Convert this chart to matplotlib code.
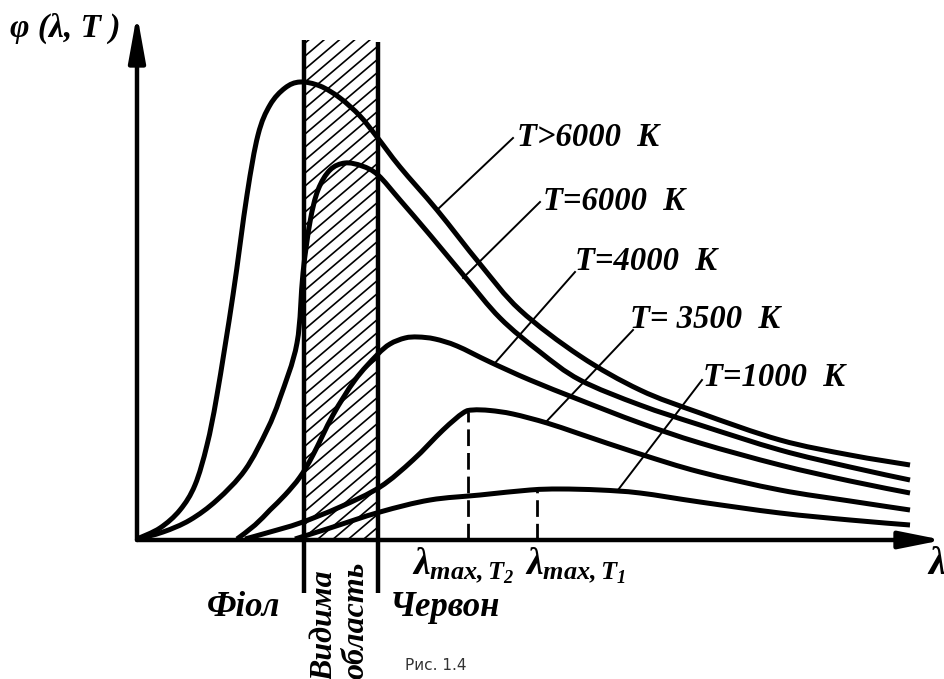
import numpy as np
import matplotlib
matplotlib.use("Agg")
import matplotlib.pyplot as plt
from matplotlib.patches import Rectangle, PathPatch
from matplotlib.path import Path

# ---------------- data (arbitrary units: wavelength, spectral density) ----------------
# T > 6000 K
c1_x = [0, 23, 43, 58, 70, 80, 96, 110, 121, 133, 148, 163, 183, 203, 223, 240, 263, 300, 343, 383, 443, 503, 563, 643, 713, 773]
c1_y = [1, 12, 30, 55, 95, 145, 245, 345, 405, 435, 452, 458, 454, 442, 424, 403, 373, 330, 276, 230, 184, 150, 127, 100, 85, 75]
# T = 6000 K
c2_x = [0, 26, 53, 80, 108, 130, 143, 160, 166, 173, 181, 193, 208, 225, 241, 263, 293, 328, 363, 403, 443, 503, 563, 643, 713, 773]
c2_y = [1, 8, 20, 40, 70, 110, 142, 197, 267, 318, 350, 370, 377, 374, 365, 340, 305, 263, 222, 188, 160, 135, 115, 90, 73, 60]
# T = 4000 K
c3_x = [100, 118, 133, 148, 163, 176, 196, 218, 240, 253, 268, 281, 298, 320, 353, 393, 443, 503, 563, 643, 713, 773]
c3_y = [1, 15, 30, 45, 63, 85, 125, 160, 185, 196, 202, 203, 201, 194, 178, 160, 140, 117, 97, 75, 59, 47]
# T = 3500 K
c4_x = [108, 133, 163, 203, 243, 276, 306, 326, 336, 353, 376, 410, 443, 503, 563, 643, 713, 773]
c4_y = [1, 8, 17, 33, 53, 80, 110, 127, 130, 129.5, 126, 117, 106, 86, 68, 50, 39, 30]
# T = 1000 K
c5_x = [158, 193, 243, 293, 343, 393, 423, 463, 503, 563, 643, 713, 773]
c5_y = [1, 12, 28, 40, 45, 50, 51, 50, 47, 38, 27, 20, 15]

curves_x = [c1_x, c2_x, c3_x, c4_x, c5_x]
curves_y = [c1_y, c2_y, c3_y, c4_y, c5_y]

labels = ["T>6000  K", "T=6000  K", "T=4000  K", "T= 3500  K", "T=1000  K"]
label_pos = [(380, 402), (406, 338), (438, 278), (493, 220), (566, 162)]
leader_start = [(376, 402), (403, 338), (438, 268), (496, 210), (565, 160)]
leader_end = [(300, 330), (326, 262), (358, 177), (408, 117), (481, 50)]

lam_max_x = [331, 400]          # λmax,T2 ; λmax,T1
lam_max_y = [128, 49]
lam_max_labels = [r"$\lambda_{max,T_2}$", r"$\lambda_{max,T_1}$"]

visible_band = (167, 241)       # visible region limits

# ---------------- figure ----------------
plt.rcParams['mathtext.fontset'] = 'custom'
plt.rcParams['mathtext.it'] = 'Liberation Serif:bold:italic'
plt.rcParams['mathtext.rm'] = 'Liberation Serif:bold:italic'
plt.rcParams['mathtext.bf'] = 'Liberation Serif:bold:italic'

fig = plt.figure(figsize=(9.44, 6.79), dpi=100)
ax = fig.add_axes([0, 0, 1, 1])
ax.set_xlim(-137, 807)
ax.set_ylim(-139, 540)
ax.axis('off')

serif = dict(family='Liberation Serif', weight='bold', style='italic')


def smooth_path(xs, ys):
    """Catmull-Rom through the points, drawn as cubic Bezier segments."""
    p = np.column_stack([xs, ys]).astype(float)
    ext = np.vstack([p[0], p, p[-1]])
    verts = [p[0]]
    codes = [Path.MOVETO]
    for i in range(1, len(ext) - 2):
        p0, p1, p2, p3 = ext[i - 1], ext[i], ext[i + 1], ext[i + 2]
        verts += [p1 + (p2 - p0) / 6.0, p2 - (p3 - p1) / 6.0, p2]
        codes += [Path.CURVE4] * 3
    return Path(verts, codes)


# axes with arrows
ax.annotate('', xy=(0, 526), xytext=(0, 0),
            arrowprops=dict(arrowstyle='-|>,head_length=1.0,head_width=0.18',
                            lw=3.2, color='k', shrinkA=0, shrinkB=0, mutation_scale=28))
ax.annotate('', xy=(806, 0), xytext=(0, 0),
            arrowprops=dict(arrowstyle='-|>,head_length=1.0,head_width=0.2',
                            lw=3.2, color='k', shrinkA=0, shrinkB=0, mutation_scale=26))

# visible region band
x0, x1 = visible_band
rect = Rectangle((x0, 0), x1 - x0, 500, facecolor='none', edgecolor='none')
ax.add_patch(rect)
slope = 0.85
for c in np.arange(-slope * (x1 - x0), 520, 13):
    xs = np.array([x0, x1])
    ys = c + slope * (xs - x0)
    ln, = ax.plot(xs, ys, color='k', lw=1.2, solid_capstyle='butt')
    ln.set_clip_path(rect)
for xb, top in zip(visible_band, [500, 498]):
    ax.plot([xb, xb], [-53, top], color='k', lw=3.2, solid_capstyle='butt')

# curves
for cx, cy in zip(curves_x, curves_y):
    ax.add_patch(PathPatch(smooth_path(cx, cy), facecolor='none', edgecolor='k',
                           lw=3.6, capstyle='butt', joinstyle='round'))

# leaders and labels
for (sx, sy), (ex, ey) in zip(leader_start, leader_end):
    ax.plot([sx, ex], [sy, ey], color='k', lw=1.4)
for txt, (lx, ly) in zip(labels, label_pos):
    ax.text(lx, ly, txt, fontsize=23.5, ha='left', va='center', **serif)

# λmax dashed lines
for lx, ly in zip(lam_max_x, lam_max_y):
    ax.plot([lx, lx], [0, ly], color='k', lw=2.0, dashes=(6, 2.5))
ax.text(275, -34, lam_max_labels[0], fontsize=27, ha='left', va='baseline')
ax.text(388, -34, lam_max_labels[1], fontsize=27, ha='left', va='baseline')

# axis labels
ax.text(-127, 512, "φ (λ, T )", fontsize=24, ha='left', va='center', **serif)
ax.text(791, -25, "λ", fontsize=28, ha='left', va='center', **serif)

ax.text(70, -67, "Фіол", fontsize=25, ha='left', va='center', **serif)
ax.text(253, -67, "Червон", fontsize=25, ha='left', va='center', **serif)
ax.text(188, -30, "Видима", fontsize=23, ha='center', va='top', rotation=90, **serif)
ax.text(219, -22, "область", fontsize=23, ha='center', va='top', rotation=90, **serif)

ax.text(268, -118, "Рис. 1.4", fontsize=11, ha='left', va='top', color='#333333',
        family='DejaVu Sans')

fig.savefig("out.png", dpi=100)
